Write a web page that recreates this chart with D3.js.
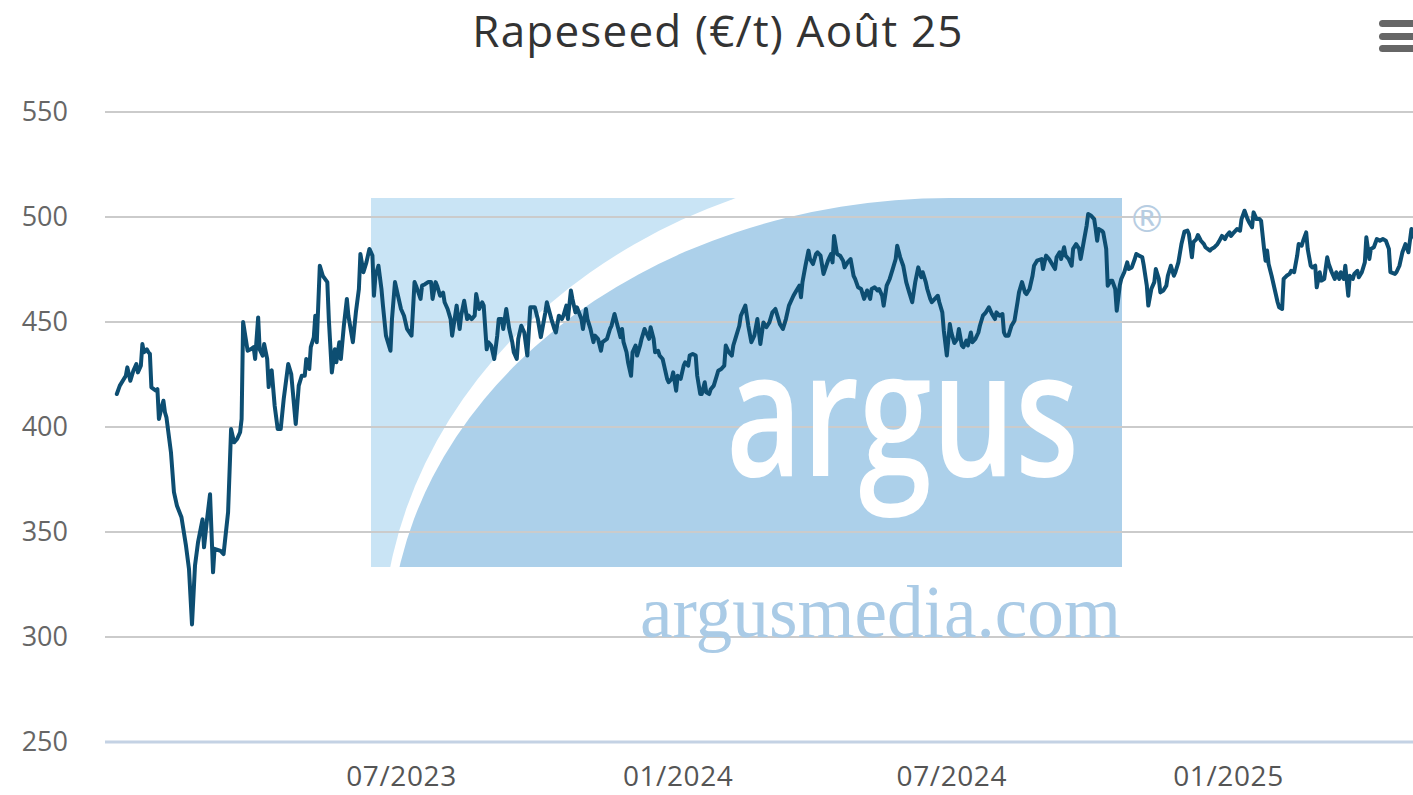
<!DOCTYPE html>
<html>
<head>
<meta charset="utf-8">
<script src="https://cdn.jsdelivr.net/npm/d3@7"></script>
<style>
  html, body { margin: 0; padding: 0; background: #fff; overflow: hidden; }
  svg { display: block; }
</style>
</head>
<body>
<svg id="chart" width="1413" height="795"></svg>
<script>
// ---------------- DATA ----------------
const chartTitle = "Rapeseed (€/t) Août 25";
const baseDate = "2023-07-01";           // day offsets below are counted from this date
const yTickValues = [250, 300, 350, 400, 450, 500, 550];
const xTickDates = ["2023-07-01", "2024-01-01", "2024-07-01", "2025-01-01"];

const dayOffsets = [
-189,-187,-183,-182,-180,-178,-176,-175,-173,-172,-171,-169,-168,-167,-166,-163,-162,-161,-159,-158,
-157,-156,-153,-151,-149,-146,-143,-141,-139,-137,-135,-132,-131,-129,-127,-125,-124,-120,-118,-115,
-113,-111,-109,-107,-106,-105,-102,-100,-98,-97,-95,-94,-92,-91,-89,-88,-87,-86,-84,-82,
-80,-78,-75,-73,-70,-68,-66,-64,-63,-61,-60,-58,-57,-56,-54,-52,-49,-48,-46,-44,
-43,-41,-40,-38,-36,-35,-32,-30,-28,-27,-25,-23,-22,-21,-19,-18,-17,-15,-13,-12,
-10,-7,-6,-4,-2,0,2,4,7,9,10,13,14,16,18,20,21,23,24,26,
28,29,31,33,34,36,37,39,40,42,44,45,47,49,50,52,54,55,57,58,
60,62,64,65,67,68,70,72,74,75,77,78,80,82,84,86,89,91,93,96,
97,100,102,103,105,107,108,110,111,113,114,116,117,120,121,123,124,126,128,129,
131,133,134,137,139,140,142,144,146,147,148,150,151,153,154,156,157,159,160,162,
163,165,166,168,169,171,172,174,175,177,178,180,181,183,184,186,188,189,191,192,
194,196,197,199,200,202,203,205,206,208,210,211,213,215,216,218,220,221,223,225,
226,229,231,233,235,237,239,241,243,245,247,249,250,252,254,256,258,261,263,265,
266,267,269,271,272,274,276,277,279,281,284,286,287,288,290,292,294,295,297,299,
301,302,304,306,308,310,312,313,315,317,318,320,321,323,325,327,329,330,332,334,
336,338,340,342,344,346,347,349,350,352,353,355,357,358,360,361,363,365,366,368,
370,371,373,374,376,377,379,380,382,384,385,387,389,391,393,395,396,398,400,401,
402,404,406,408,410,411,413,415,416,418,420,421,423,426,427,429,431,433,435,436,
438,439,441,442,444,446,447,449,451,452,454,456,457,459,461,462,463,464,466,467,
469,470,472,473,475,476,478,479,481,483,484,486,488,489,491,493,494,496,497,499,
501,502,504,505,507,509,510,512,514,515,517,519,521,523,524,526,527,529,530,532,
534,535,538,539,541,543,544,546,548,549,551,552,554,556,558,559,561,563,564,566,
567,569,571,572,574,575,576,577,579,581,583,584,586,587,589,591,592,594,596,597,
599,600,602,603,605,606,608,609,611,612,614,616,617,619,621,622,624,625,627,628,
630,631,633,634,636,637,639,641,642,644,645,647,649,651,653,655,657,658,661,662,
664,666,668,670,672,674
];

const prices = [
415.7,419.7,424.4,428.4,422,426.8,430,426,429.2,439.5,435.6,437,435.6,434.8,418.9,417.3,418,403.8,410,412.5,
407,404.6,388,369,362.5,357,343.5,332.4,306,334,345,356,342.7,356,368,330.8,342,341,339.5,359.4,
399,392.7,394.3,397.5,403.8,450,436.3,437,438,432.4,452.2,437,434,439.5,432.4,419,426,427,410,399,
399,413.3,430,425.2,401.4,419.7,424.4,424.4,432.4,427.6,438,442.7,453,440.4,476.8,472,469,451.4,426,437,
430.8,440.4,432.4,448.2,461,453,440.4,454.6,465.7,482.4,473.7,478.4,481.6,484.8,481.6,462.5,472,476.8,465.7,457.8,
443.5,436.3,451.4,469,462.5,456.2,453,446.7,443.5,469,467.3,461,467.3,468,469,469,461,469,467.3,462.5,
464,459.4,456.2,451.4,443.5,453,457.8,446.7,453,460.1,451.4,453,451.4,453,463.3,456.2,459.4,457.8,437,440.4,
438.8,432.4,443.5,451.4,451.4,446.7,456.2,446.7,440.4,435.6,432.4,442,448.2,445,434,457,457,451.4,442.8,454.6,
459.4,451.4,446.7,445,453,451.4,453,457.8,451.4,465,461,454.6,457,451.4,446.7,456.2,451.4,446.7,440.4,443.5,
442,436.3,440.4,442,446.7,448.2,453.8,448.2,442.8,446.7,440.4,435.6,430.8,424.4,435.6,438.8,434,438.8,442,446.7,
445,442,447.5,442,435.6,436.3,434,432.4,429.2,422.9,421.3,422.9,426,417.3,424.4,422.9,429.2,430.8,429.2,434,
434.8,434,424.4,415.7,415.7,421.3,416.5,415.7,418,419.7,424.4,426.8,427.6,429.2,438.8,435.6,434,438.8,443.5,448.2,
453,457.8,448.2,440.4,443.5,451.4,439.5,449.8,447.5,449.8,454.6,456.2,453.8,449,446.7,451.4,457.8,462.5,465,467.3,
461.8,469,476.8,484,480,477.6,482.4,483.2,481.6,472.9,479.2,482.4,478.4,491,482.4,481.6,479.2,476,478.4,480,
472,470.5,466.5,465.7,461,465,461,465.7,466.5,465,465.7,462.5,457.8,467.3,470.5,475.2,480,486.3,480.8,476.8,
469,464.1,459.4,469,476,471.3,473.7,469,465.7,461,459.4,461,462.5,459.4,454.6,446,434,449,445,440,
442,446.7,438.8,438,441.2,438.8,445,440.4,442,445,448.2,453,454.6,457,453.8,451.4,454.6,453,453.8,445,
443.5,443.5,448.2,450.6,459.4,464.1,469,464.1,463.3,465.7,472,476.8,479.2,480,475.2,481.6,480,477.6,475.2,480.8,
483.2,480,485.6,481.6,480,476.8,484.8,487.1,484.8,480,488,495.9,501.4,500.6,499,494.3,488.7,494.3,493.5,492.7,
484.8,467.3,469.7,469.7,465.7,455.4,467.3,470.5,473.7,478.4,475.2,476,480,482.4,481.6,480.8,476.8,467.3,457.8,465.7,
469,475.2,470.5,464.1,465,467.3,472,476.8,472,473.7,478.4,487,493,493.5,491.9,480.8,488,489.5,491.4,488.7,
487.1,485.6,484,484.8,485.6,487.1,488.3,491,489.5,491,492.7,491,492.7,494.3,493.5,499,503,499,497.5,495.1,
502.2,499,499,498.2,484.8,479.2,484,477.6,472,465.7,459.4,457,456.2,470.5,472,472.9,474.4,473.7,481.6,487.1,
486.3,488.7,492.7,484.8,476.8,476,476.8,466.5,473.7,469.7,470.5,480.8,477.6,473.7,470.5,473.7,470.5,473.7,470.5,476.8,
462.5,472,470.5,472.9,474.4,471.3,473.7,478.4,490.3,480,484.8,485.6,489.5,488.7,489.5,488.7,484.8,473.7,472.9,473.7,
476.8,483.2,487.1,483.2,494.3,490
];

// ---------------- CHART ----------------
const W = 1413, H = 795;
const svg = d3.select("#chart");
const parse = d3.utcParse("%Y-%m-%d");
const base = parse(baseDate);
const series = dayOffsets.map((d, i) => ({ date: d3.utcDay.offset(base, d), value: prices[i] }));

const plotLeft = 105, plotRight = 1440;
const x = d3.scaleUtc()
  .domain([parse(xTickDates[0]), parse(xTickDates[xTickDates.length - 1])])
  .range([401, 1228]);
const y = d3.scaleLinear().domain([250, 550]).range([742, 112]);

// title
svg.append("text")
  .attr("x", 718).attr("y", 47)
  .attr("text-anchor", "middle")
  .style("font-family", "'Open Sans', sans-serif")
  .style("font-size", "44px")
  .style("letter-spacing", "1.2px")
  .style("fill", "#333")
  .text(chartTitle);

// menu icon
const menu = svg.append("g").attr("fill", "#666");
[20, 33, 45].forEach(t => menu.append("rect")
  .attr("x", 1379).attr("y", t).attr("width", 40).attr("height", 7).attr("rx", 3.5));

// watermark
const wm = { x0: 371, x1: 1122, y0: 198, y1: 567 };
const defs = svg.append("defs");
defs.append("clipPath").attr("id", "wmclip").append("rect")
  .attr("x", wm.x0).attr("y", wm.y0).attr("width", wm.x1 - wm.x0).attr("height", wm.y1 - wm.y0);
const wg = svg.append("g").attr("clip-path", "url(#wmclip)");
wg.append("rect").attr("x", wm.x0).attr("y", wm.y0)
  .attr("width", wm.x1 - wm.x0).attr("height", wm.y1 - wm.y0).attr("fill", "#c9e4f5");
const ecx = 950, ecy = 650;
wg.append("ellipse").attr("cx", ecx).attr("cy", ecy).attr("rx", 568).attr("ry", 488).attr("fill", "#ffffff");
wg.append("rect").attr("x", ecx).attr("y", wm.y0).attr("width", wm.x1 - ecx).attr("height", wm.y1 - wm.y0).attr("fill", "#ffffff");
wg.append("ellipse").attr("cx", ecx).attr("cy", ecy).attr("rx", 560).attr("ry", 452).attr("fill", "#acd0ea");
wg.append("rect").attr("x", ecx).attr("y", wm.y0).attr("width", wm.x1 - ecx).attr("height", wm.y1 - wm.y0).attr("fill", "#acd0ea");

// gridlines
svg.append("g").selectAll("line").data(yTickValues).join("line")
  .attr("x1", plotLeft).attr("x2", plotRight)
  .attr("y1", d => y(d)).attr("y2", d => y(d))
  .attr("stroke", d => d === 250 ? "#c4d2e4" : "#cbcbcb")
  .attr("stroke-width", d => d === 250 ? 3 : 2);

// watermark texts (over gridlines)
svg.append("text")
  .attr("x", 726).attr("y", 476)
  .attr("textLength", 353).attr("lengthAdjust", "spacingAndGlyphs")
  .style("font-family", "'Open Sans', sans-serif")
  .style("font-weight", 600)
  .style("font-size", "176px")
  .style("fill", "#ffffff")
  .text("argus");
svg.append("text")
  .attr("x", 640).attr("y", 637)
  .attr("textLength", 481).attr("lengthAdjust", "spacingAndGlyphs")
  .style("font-family", "'Liberation Serif', serif")
  .style("font-size", "74px")
  .style("fill", "#aacbe6")
  .text("argusmedia.com");
svg.append("text")
  .attr("x", 1147).attr("y", 219)
  .attr("text-anchor", "middle").attr("dominant-baseline", "central")
  .style("font-family", "'DejaVu Sans', sans-serif")
  .style("font-size", "38px")
  .style("fill", "#b7cde2")
  .text("®");

// axes
const yAxis = d3.axisLeft(y).tickValues(yTickValues).tickSize(0).tickPadding(37);
const gy = svg.append("g").attr("transform", `translate(${plotLeft},0)`).call(yAxis);
gy.select(".domain").remove();
gy.selectAll("text")
  .style("font-family", "'Open Sans', sans-serif")
  .style("font-size", "27px")
  .style("fill", "#666");

const xAxis = d3.axisBottom(x).tickValues(xTickDates.map(parse))
  .tickFormat(d3.utcFormat("%m/%Y")).tickSize(0).tickPadding(24);
const gx = svg.append("g").attr("transform", `translate(0,${y(250)})`).call(xAxis);
gx.select(".domain").remove();
gx.selectAll("text")
  .style("font-family", "'Open Sans', sans-serif")
  .style("font-size", "28px")
  .style("letter-spacing", "0.6px")
  .style("fill", "#555");

// series line
const line = d3.line().x(d => x(d.date)).y(d => y(d.value));
svg.append("path")
  .datum(series)
  .attr("d", line)
  .attr("fill", "none")
  .attr("stroke", "#0d4e72")
  .attr("stroke-width", 4)
  .attr("stroke-linejoin", "round")
  .attr("stroke-linecap", "round");
</script>
</body>
</html>
